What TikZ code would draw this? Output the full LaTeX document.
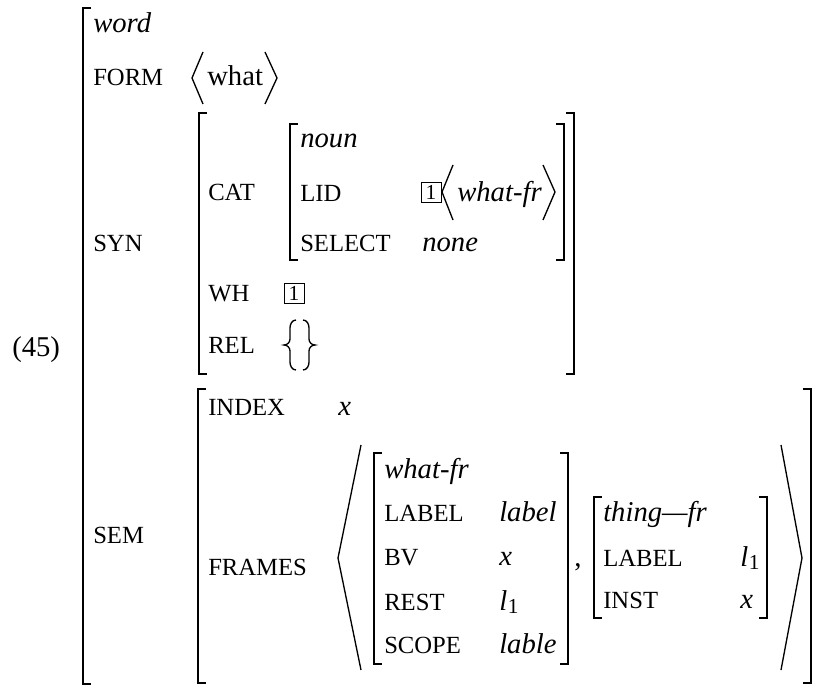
\documentclass[tikz,border=0pt]{standalone}
\usepackage{fontspec}
\setmainfont{Liberation Serif}
\newcommand\K[1]{{\fontsize{18.5}{20}\selectfont #1}}
\newcommand\V[1]{\textit{#1}}
\newcommand\lone{\textit{l}\kern0.5pt\raisebox{-0.3ex}{\fontsize{16}{18}\selectfont 1}}
\newcommand\LB[3]{\draw[brk] (#1+8,#2) -| (#1,#3) -- (#1+8,#3);}
\newcommand\RB[3]{\draw[brk] (#1-8,#2) -| (#1,#3) -- (#1-8,#3);}
\tikzset{
  txt/.style={anchor=base west, inner sep=0pt, font=\fontsize{21.5}{24}\selectfont},
  brk/.style={line width=1.5pt},
  ang/.style={line width=1pt},
  brc/.style={line width=1pt},
  tag/.style={draw, line width=0.6pt, inner sep=0pt, minimum width=15pt, minimum height=15pt, font=\fontsize{16}{17}\selectfont},
}
\begin{document}
\begin{tikzpicture}[x=0.75pt,y=-0.75pt]
\useasboundingbox (0,0) rectangle (817,688);
% texts
\node[txt] (n45) at (12,356) {(45)};
\node[txt] (word) at (93,33) {\V{word}};
\node[txt] (form) at (93,86) {\K{FORM}};
\node[txt] (what) at (207,86) {what};
\node[txt] (syn) at (93,251) {\K{SYN}};
\node[txt] (cat) at (208,200) {\K{CAT}};
\node[txt] (noun) at (300,148) {\V{noun}};
\node[txt] (lid) at (300,201) {\K{LID}};
\node[tag] (t1) at (431,192) {1};
\node[txt] (whatfrA) at (457,201) {\V{what-fr}};
\node[txt] (select) at (300,251) {\K{SELECT}};
\node[txt] (none) at (422,251) {\V{none}};
\node[txt] (wh) at (208,301) {\K{WH}};
\node[tag] (t2) at (294,293) {1};
\node[txt] (rel) at (208,353) {\K{REL}};
\node[txt] (sem) at (93,543) {\K{SEM}};
\node[txt] (index) at (208,415) {\K{INDEX}};
\node[txt] (xi) at (338,415) {\V{x}};
\node[txt] (frames) at (208,575) {\K{FRAMES}};
\node[txt] (whatfrB) at (384,478) {\V{what-fr}};
\node[txt] (labelA) at (384,521) {\K{LABEL}};
\node[txt] (labelv) at (499,521) {\V{label}};
\node[txt] (bv) at (384,565) {\K{BV}};
\node[txt] (bvv) at (499,565) {\V{x}};
\node[txt] (rest) at (384,610) {\K{REST}};
\node[txt] (restv) at (499,610) {\lone};
\node[txt] (scope) at (384,653) {\K{SCOPE}};
\node[txt] (scopev) at (499,653) {\V{lable}};
\node[txt] (comma) at (574,566) {,};
\node[txt] (thingfr) at (603,521) {\V{thing---fr}};
\node[txt] (labelB) at (603,566) {\K{LABEL}};
\node[txt] (labelBv) at (740,566) {\lone};
\node[txt] (inst) at (603,608) {\K{INST}};
\node[txt] (instv) at (740,608) {\V{x}};
% brackets
\LB{83}{8}{684}
\LB{199}{113}{374}
\RB{574}{113}{374}
\LB{290}{124}{260}
\RB{564}{124}{260}
\LB{198}{389}{683}
\RB{811}{389}{683}
\LB{374}{453}{664}
\RB{568}{453}{664}
\LB{594}{497}{618}
\RB{767}{497}{618}
% angle brackets
\draw[ang] (203,52) -- (192,78) -- (203,104);
\draw[ang] (265,52) -- (277,78) -- (265,104);
\draw[ang] (453,165) -- (442,192) -- (453,220);
\draw[ang] (543,165) -- (555,192) -- (543,220);
\draw[ang] (361,445) -- (338,558) -- (361,670);
\draw[ang] (781,445) -- (802,558) -- (781,670);
% braces
\draw[brc] (296,320) to[out=180,in=90] (290,328) -- (290,339) to[out=-90,in=0] (284,345) to[out=0,in=90] (290,351) -- (290,362) to[out=-90,in=180] (296,370);
\draw[brc] (303,320) to[out=0,in=90] (309,328) -- (309,339) to[out=-90,in=180] (315,345) to[out=180,in=90] (309,351) -- (309,362) to[out=-90,in=0] (303,370);
\end{tikzpicture}
\end{document}
